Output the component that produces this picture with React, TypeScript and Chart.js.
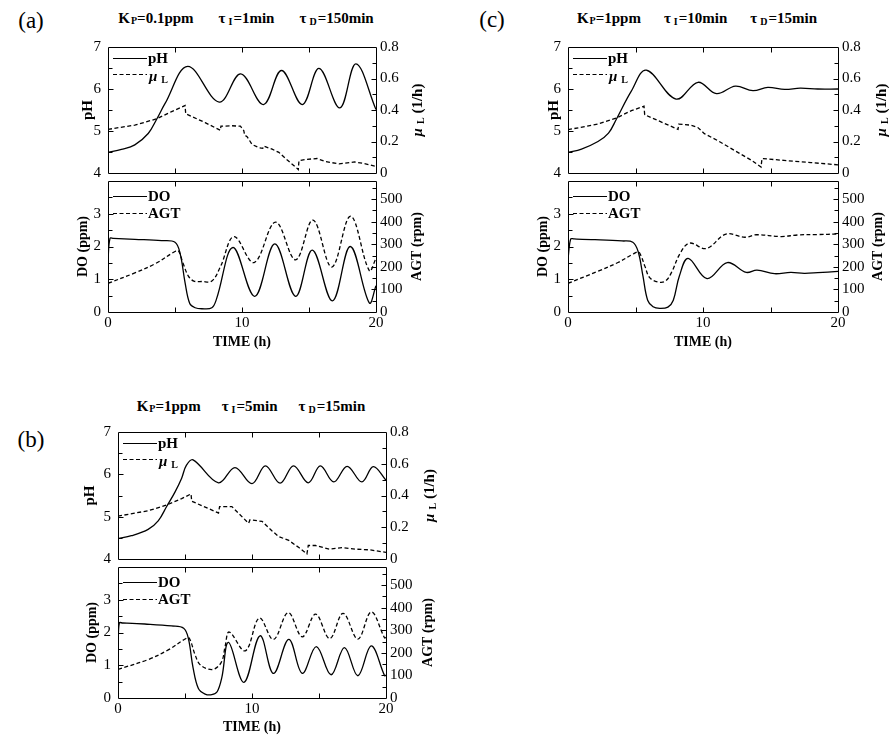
import React, { useEffect, useRef } from 'react';
import { Chart, registerables } from 'chart.js';
Chart.register(...registerables);

const SERIF = '"Liberation Serif", "Times New Roman", serif';

// ---------- tick values ----------
const timeLabels = [0, 10, 20];
const timeMarks = [5, 10, 15];
const pHLabels = [4, 5, 6, 7];
const pHMajor = [5, 6];
const pHMinor = [4.5, 5.5, 6.5];
const muLabels = [0, 0.2, 0.4, 0.6, 0.8];
const muMajor = [0.2, 0.4, 0.6];
const muMinor = [0.1, 0.3, 0.5, 0.7];
const doLabels = [0, 1, 2, 3];
const doMajor = [1, 2, 3];
const doMinor = [0.5, 1.5, 2.5, 3.5];
const agtLabels = [0, 100, 200, 300, 400, 500];
const agtMajor = [100, 200, 300, 400, 500];
const agtMinor = [50, 150, 250, 350, 450, 550];

// ---------- panel (a) ----------
const aPH_t = [0, 1, 2, 3, 3.63, 4.25, 5.95, 8.3, 9.9, 11.6, 12.95, 14.5, 15.75, 17.3, 18.5, 20];
const aPH_v = [4.49, 4.56, 4.67, 4.94, 5.28, 5.65, 6.54, 5.69, 6.36, 5.63, 6.44, 5.63, 6.49, 5.55, 6.6, 5.51];
const aMU_t = [0, 2, 3.63, 4.75, 5.75, 5.8, 7.25, 8.38, 8.43, 9.25, 9.88, 10.13, 10.2, 10.38, 10.75, 11.25, 11.55, 11.62, 12.25, 12.75, 13.38, 14.0, 14.2, 14.25, 14.75, 15.6, 16.25, 17.25, 18.4, 19.0, 20];
const aMU_v = [0.277, 0.304, 0.344, 0.39, 0.428, 0.376, 0.32, 0.271, 0.297, 0.3, 0.297, 0.27, 0.24, 0.231, 0.181, 0.161, 0.157, 0.171, 0.151, 0.131, 0.082, 0.038, 0.022, 0.078, 0.086, 0.092, 0.072, 0.058, 0.07, 0.062, 0.042];
const aDO_t = [0, 0.15, 0.4, 2, 4, 5, 5.38, 5.75, 6.1, 6.5, 7, 7.75, 8.1, 9.33, 10.95, 12.45, 14.0, 15.25, 16.75, 18.08, 19.5, 20];
const aDO_v = [1.6, 2.25, 2.25, 2.22, 2.18, 2.13, 1.79, 0.9, 0.26, 0.13, 0.1, 0.13, 0.4, 1.97, 0.48, 2.08, 0.48, 1.89, 0.34, 2.0, 0.28, 0.8];
const aAGT_t = [0, 2, 3.5, 5, 5.25, 5.6, 6, 6.4, 7.0, 7.75, 8.4, 9.4, 10.9, 12.5, 14.0, 15.3, 16.7, 18.1, 19.5, 20];
const aAGT_v = [127, 173, 213, 268, 272, 216, 159, 137, 135, 137, 202, 334, 219, 398, 231, 407, 199, 424, 183, 238];

// ---------- panel (c) ----------
const cPH_t = [0, 1, 2.22, 3.0, 3.58, 4.69, 5.8, 8.0, 9.63, 11.0, 12.4, 13.7, 14.8, 16.05, 17.2, 18.5, 20];
const cPH_v = [4.49, 4.57, 4.75, 4.95, 5.28, 5.95, 6.45, 5.76, 6.16, 5.89, 6.07, 5.96, 6.04, 5.99, 6.02, 6.0, 6.0];
const cMU_t = [0, 2.2, 3.6, 4.7, 5.63, 5.68, 8.15, 8.2, 9.1, 9.6, 10.1, 11.1, 12.1, 13.6, 14.3, 14.37, 16, 18, 20];
const cMU_v = [0.275, 0.31, 0.35, 0.396, 0.424, 0.37, 0.277, 0.31, 0.304, 0.29, 0.25, 0.205, 0.155, 0.08, 0.038, 0.092, 0.08, 0.066, 0.052];
const cDO_t = [0, 0.2, 0.45, 2, 4, 4.8, 5.2, 5.55, 5.9, 6.3, 6.8, 7.4, 7.8, 8.25, 8.9, 10.3, 11.8, 13.2, 14.0, 15.3, 16.5, 17.5, 18.5, 20];
const cDO_v = [1.62, 2.23, 2.23, 2.21, 2.17, 2.13, 1.84, 1.1, 0.36, 0.16, 0.11, 0.15, 0.36, 1.1, 1.64, 1.02, 1.51, 1.21, 1.28, 1.17, 1.21, 1.18, 1.2, 1.24];
const cAGT_t = [0, 2.2, 3.7, 4.8, 5.2, 5.4, 5.7, 6.05, 6.67, 7.2, 7.65, 8.3, 9.0, 10.25, 11.7, 13.1, 13.95, 15.8, 17, 18.5, 20];
const cAGT_v = [127, 180, 219, 256, 266, 250, 202, 152, 133, 136, 173, 259, 305, 281, 345, 331, 342, 334, 341, 343, 345];

// ---------- panel (b) ----------
const bPH_t = [0, 1, 2.25, 3.0, 3.63, 4.25, 4.75, 5.1, 5.6, 7.5, 8.73, 10.0, 11.0, 12.1, 13.1, 14.2, 15.1, 16.1, 17.1, 18.2, 19.05, 20];
const bPH_v = [4.48, 4.55, 4.7, 4.9, 5.24, 5.58, 5.91, 6.21, 6.34, 5.8, 6.16, 5.78, 6.2, 5.79, 6.2, 5.8, 6.2, 5.82, 6.19, 5.82, 6.18, 5.86];
const bMU_t = [0, 2.25, 3.63, 4.75, 5.45, 5.5, 7.5, 7.58, 8.5, 8.9, 9.75, 9.85, 10.75, 11.5, 12.0, 12.75, 13.5, 14.1, 14.2, 14.75, 15.75, 16.75, 17.75, 18.75, 20];
const bMU_v = [0.27, 0.304, 0.34, 0.38, 0.41, 0.364, 0.29, 0.33, 0.33, 0.296, 0.225, 0.247, 0.237, 0.177, 0.141, 0.117, 0.072, 0.032, 0.085, 0.085, 0.062, 0.072, 0.062, 0.058, 0.042];
const bDO_t = [0, 0.1, 0.35, 2, 4, 4.9, 5.25, 5.6, 6.0, 6.5, 7.0, 7.4, 7.75, 8.25, 9.4, 10.6, 11.6, 12.75, 13.75, 14.8, 15.9, 16.9, 17.9, 18.9, 19.9, 20];
const bDO_v = [1.62, 2.29, 2.29, 2.26, 2.2, 2.13, 1.82, 0.93, 0.29, 0.12, 0.1, 0.19, 0.63, 1.7, 0.48, 1.9, 0.75, 1.79, 0.75, 1.57, 0.71, 1.54, 0.68, 1.59, 0.68, 0.7];
const bAGT_t = [0, 2.25, 3.75, 5, 5.3, 5.75, 6.1, 6.75, 7.25, 7.75, 8.0, 8.3, 9.5, 10.55, 11.6, 12.7, 13.75, 14.75, 15.8, 16.8, 17.9, 18.9, 19.9, 20];
const bAGT_v = [127, 170, 213, 261, 266, 192, 149, 128, 130, 163, 230, 292, 209, 354, 259, 378, 271, 371, 263, 375, 261, 381, 266, 270];

// ---------- layout / style ----------
const PADL = 60;
const PADR = 60;
const PADT = 12;
const B = (s: number) => `bold ${s}px ${SERIF}`;
const BI = (s: number) => `italic bold ${s}px ${SERIF}`;

type Piece = { t: string; f: string; dy?: number; gap?: number };
type AxisSpec = { min: number; max: number; labels: number[]; major: number[]; minor: number[]; fmt: (v: number) => string };
type Series = { t: number[]; v: number[]; axis: 'y' | 'y1'; dash: boolean; tension: number };
type PlotSpec = {
  x0: number; x1: number; y0: number; y1: number; padB: number; showX: boolean;
  left: AxisSpec; right: AxisSpec; series: Series[];
  legend: { dash: boolean; dy: number; pieces: Piece[] }[];
  leftTitle: { dx: number; pieces: Piece[] };
  rightTitle: { dx: number; pieces: Piece[] };
  bottomTitle?: { dy: number; pieces: Piece[] };
};

const fmtInt = (v: number) => String(v);
const fmtMu = (v: number) => (v === 0 ? '0' : v.toFixed(1));
const pHAxis: AxisSpec = { min: 4, max: 7, labels: pHLabels, major: pHMajor, minor: pHMinor, fmt: fmtInt };
const muAxis: AxisSpec = { min: 0, max: 0.8, labels: muLabels, major: muMajor, minor: muMinor, fmt: fmtMu };
const doAxis: AxisSpec = { min: 0, max: 4, labels: doLabels, major: doMajor, minor: doMinor, fmt: fmtInt };
const agtAxis: AxisSpec = { min: 0, max: 580, labels: agtLabels, major: agtMajor, minor: agtMinor, fmt: fmtInt };

const SMOOTH = 0.37;

const muPieces = (s: number): Piece[] => [
  { t: 'μ', f: BI(s) },
  { t: 'L', f: B(Math.round(s * 0.68)), dy: 3, gap: 4 },
];

function measure(ctx: CanvasRenderingContext2D, pieces: Piece[]) {
  let w = 0;
  for (const p of pieces) {
    ctx.font = p.f;
    w += (p.gap || 0) + ctx.measureText(p.t).width;
  }
  return w;
}
function drawPieces(ctx: CanvasRenderingContext2D, pieces: Piece[], x: number, y: number, center: boolean) {
  let cx = center ? x - measure(ctx, pieces) / 2 : x;
  ctx.textAlign = 'left';
  ctx.textBaseline = 'middle';
  for (const p of pieces) {
    ctx.font = p.f;
    cx += p.gap || 0;
    ctx.fillText(p.t, cx, y + (p.dy || 0));
    cx += ctx.measureText(p.t).width;
  }
}

function makeConfig(spec: PlotSpec): any {
  const framePlugin = {
    id: 'frameTicks',
    afterDraw(chart: any) {
      const ctx: CanvasRenderingContext2D = chart.ctx;
      const { left, right, top, bottom } = chart.chartArea;
      const ys = chart.scales.y, yr = chart.scales.y1, xs = chart.scales.x;
      ctx.save();
      ctx.strokeStyle = '#000';
      ctx.fillStyle = '#000';
      ctx.lineWidth = 1;
      ctx.setLineDash([]);
      ctx.beginPath();
      const L = left + 0.5, R = right + 0.5, T = top + 0.5, Bt = bottom + 0.5;
      ctx.moveTo(L, T); ctx.lineTo(R, T); ctx.lineTo(R, Bt); ctx.lineTo(L, Bt); ctx.closePath();
      const yt = (sc: any, vals: number[], len: number, side: number) => {
        for (const v of vals) {
          const p = Math.round(sc.getPixelForValue(v)) + 0.5;
          const x = side < 0 ? L : R;
          ctx.moveTo(x, p); ctx.lineTo(x - side * len, p);
        }
      };
      yt(ys, spec.left.major, 5, -1);
      yt(ys, spec.left.minor, 4, -1);
      yt(yr, spec.right.major, 5, 1);
      yt(yr, spec.right.minor, 4, 1);
      for (const v of timeMarks) {
        const p = Math.round(xs.getPixelForValue(v)) + 0.5;
        ctx.moveTo(p, Bt); ctx.lineTo(p, Bt - 5);
        ctx.moveTo(p, T); ctx.lineTo(p, T + 5);
      }
      ctx.stroke();

      // legend
      for (const item of spec.legend) {
        const y = Math.round(top + item.dy) + 0.5;
        ctx.beginPath();
        ctx.lineWidth = 1.2;
        ctx.setLineDash(item.dash ? [4, 2.5] : []);
        ctx.moveTo(left + 5, y); ctx.lineTo(left + 39, y);
        ctx.stroke();
        ctx.setLineDash([]);
        drawPieces(ctx, item.pieces, left + 40, y + 1, false);
      }

      // axis titles
      const midY = (top + bottom) / 2;
      const rot = (pieces: Piece[], cx: number, cy: number) => {
        ctx.save();
        ctx.translate(cx, cy);
        ctx.rotate(-Math.PI / 2);
        drawPieces(ctx, pieces, 0, 0, true);
        ctx.restore();
      };
      rot(spec.leftTitle.pieces, left + spec.leftTitle.dx, midY);
      rot(spec.rightTitle.pieces, right + spec.rightTitle.dx, midY);
      if (spec.bottomTitle) {
        drawPieces(ctx, spec.bottomTitle.pieces, (left + right) / 2, bottom + spec.bottomTitle.dy, true);
      }
      ctx.restore();
    },
  };

  const yScale = (ax: AxisSpec, position: 'left' | 'right', width: number, pad: number) => ({
    type: 'linear',
    position,
    min: ax.min,
    max: ax.max,
    grid: { display: false, drawTicks: false },
    border: { display: false },
    ticks: {
      padding: pad,
      color: '#000',
      font: { family: SERIF, size: 15 },
      callback: (v: number) => ax.fmt(v),
    },
    afterBuildTicks: (s: any) => { s.ticks = ax.labels.map((v) => ({ value: v })); },
    afterFit: (s: any) => { s.width = width; },
  });

  return {
    type: 'line',
    data: {
      datasets: spec.series.map((s) => ({
        data: s.t.map((t, i) => ({ x: t, y: s.v[i] })),
        yAxisID: s.axis,
        borderColor: '#000',
        borderWidth: 1.3,
        borderDash: s.dash ? [4, 2.5] : [],
        pointRadius: 0,
        fill: false,
        tension: s.tension,
        cubicInterpolationMode: 'default',
      })),
    },
    options: {
      animation: false,
      responsive: false,
      maintainAspectRatio: false,
      events: [],
      layout: { padding: { top: PADT, left: 0, right: 0, bottom: 0 } },
      plugins: { legend: { display: false }, tooltip: { enabled: false }, title: { display: false } },
      scales: {
        x: {
          type: 'linear',
          position: 'bottom',
          min: 0,
          max: 20,
          grid: { display: false, drawTicks: false },
          border: { display: false },
          ticks: { display: spec.showX, padding: 2, color: '#000', font: { family: SERIF, size: 15 } },
          afterBuildTicks: (s: any) => { s.ticks = timeLabels.map((v) => ({ value: v })); },
          afterFit: (s: any) => { s.height = spec.padB; },
        },
        y: yScale(spec.left, 'left', PADL, 7),
        y1: yScale(spec.right, 'right', PADR, 4),
      },
    },
    plugins: [framePlugin],
  };
}

function Plot({ spec }: { spec: PlotSpec }) {
  const ref = useRef<HTMLCanvasElement>(null);
  const W = spec.x1 - spec.x0 + PADL + PADR;
  const H = spec.y1 - spec.y0 + PADT + spec.padB;
  useEffect(() => {
    const chart = new Chart(ref.current as HTMLCanvasElement, makeConfig(spec));
    return () => chart.destroy();
  }, []);
  return (
    <canvas
      ref={ref}
      width={W}
      height={H}
      style={{ position: 'absolute', left: spec.x0 - PADL, top: spec.y0 - PADT, width: W, height: H }}
    />
  );
}

function topSpec(x0: number, x1: number, y0: number, y1: number, ph: number[][], mu: number[][], pdx: number, mdx: number): PlotSpec {
  return {
    x0, x1, y0, y1, padB: 12, showX: false,
    left: pHAxis, right: muAxis,
    series: [
      { t: ph[0], v: ph[1], axis: 'y', dash: false, tension: SMOOTH },
      { t: mu[0], v: mu[1], axis: 'y1', dash: true, tension: 0 },
    ],
    legend: [
      { dash: false, dy: 11, pieces: [{ t: 'pH', f: B(15) }] },
      { dash: true, dy: 27, pieces: muPieces(15).map((p, i) => (i === 0 ? { ...p, dy: 2, gap: 1 } : { ...p, dy: 5 })) },
    ],
    leftTitle: { dx: pdx, pieces: [{ t: 'pH', f: B(15) }] },
    rightTitle: { dx: mdx, pieces: [...muPieces(15), { t: ' (1/h)', f: B(15) }] },
  };
}
function botSpec(x0: number, x1: number, y0: number, y1: number, dO: number[][], agt: number[][], ddx: number, adx: number, tdy: number): PlotSpec {
  return {
    x0, x1, y0, y1, padB: 45, showX: true,
    left: doAxis, right: agtAxis,
    series: [
      { t: dO[0], v: dO[1], axis: 'y', dash: false, tension: SMOOTH },
      { t: agt[0], v: agt[1], axis: 'y1', dash: true, tension: SMOOTH },
    ],
    legend: [
      { dash: false, dy: 15, pieces: [{ t: 'DO', f: B(15) }] },
      { dash: true, dy: 32, pieces: [{ t: 'AGT', f: B(15) }] },
    ],
    leftTitle: { dx: ddx, pieces: [{ t: 'DO (ppm)', f: B(14) }] },
    rightTitle: { dx: adx, pieces: [{ t: 'AGT (rpm)', f: B(14) }] },
    bottomTitle: { dy: tdy, pieces: [{ t: 'TIME (h)', f: B(14) }] },
  };
}

const specs: PlotSpec[] = [
  topSpec(108, 376, 43, 177, [aPH_t, aPH_v], [aMU_t, aMU_v], -20, 42),
  botSpec(108, 376, 177, 312, [aDO_t, aDO_v], [aAGT_t, aAGT_v], -25, 41, 30),
  topSpec(568, 838, 43, 177, [cPH_t, cPH_v], [cMU_t, cMU_v], -14, 44),
  botSpec(568, 838, 177, 312, [cDO_t, cDO_v], [cAGT_t, cAGT_v], -25, 40, 30),
  topSpec(118, 386, 428, 563, [bPH_t, bPH_v], [bMU_t, bMU_v], -28, 44),
  botSpec(118, 386, 563, 698, [bDO_t, bDO_v], [bAGT_t, bAGT_v], -26, 42, 29),
];

const subStyle: React.CSSProperties = { fontSize: 10, verticalAlign: '-1px', marginLeft: 1 };
const subStyle2: React.CSSProperties = { fontSize: 10, verticalAlign: '-2px', marginLeft: 3, marginRight: 1 };

function Title({ cx, cy, gap, kp, ti, td }: { cx: number; cy: number; gap: number; kp: string; ti: string; td: string }) {
  return (
    <div
      style={{
        position: 'absolute', left: cx, top: cy - 9, transform: 'translateX(-50%)', whiteSpace: 'nowrap',
        font: B(15), lineHeight: '18px', color: '#000',
      }}
    >
      <span>K<span style={subStyle}>P</span>={kp}</span>
      <span style={{ marginLeft: gap }}>τ<span style={subStyle2}>I</span>={ti}</span>
      <span style={{ marginLeft: gap }}>τ<span style={subStyle2}>D</span>={td}</span>
    </div>
  );
}

function PanelLabel({ cx, cy, text }: { cx: number; cy: number; text: string }) {
  return (
    <div
      style={{
        position: 'absolute', left: cx, top: cy - 13, transform: 'translateX(-50%)',
        font: `23px ${SERIF}`, lineHeight: '26px', color: '#000',
      }}
    >
      {text}
    </div>
  );
}

export default function App() {
  return (
    <div style={{ position: 'absolute', left: 0, top: 0, width: 890, height: 735, background: '#fff', overflow: 'hidden' }}>
      <PanelLabel cx={31} cy={21} text="(a)" />
      <PanelLabel cx={492} cy={20} text="(c)" />
      <PanelLabel cx={31} cy={440} text="(b)" />
      <Title cx={246} cy={18} gap={25} kp="0.1ppm" ti="1min" td="150min" />
      <Title cx={697} cy={18} gap={23} kp="1ppm" ti="10min" td="15min" />
      <Title cx={251} cy={406} gap={21} kp="1ppm" ti="5min" td="15min" />
      {specs.map((s, i) => (
        <Plot key={i} spec={s} />
      ))}
    </div>
  );
}
